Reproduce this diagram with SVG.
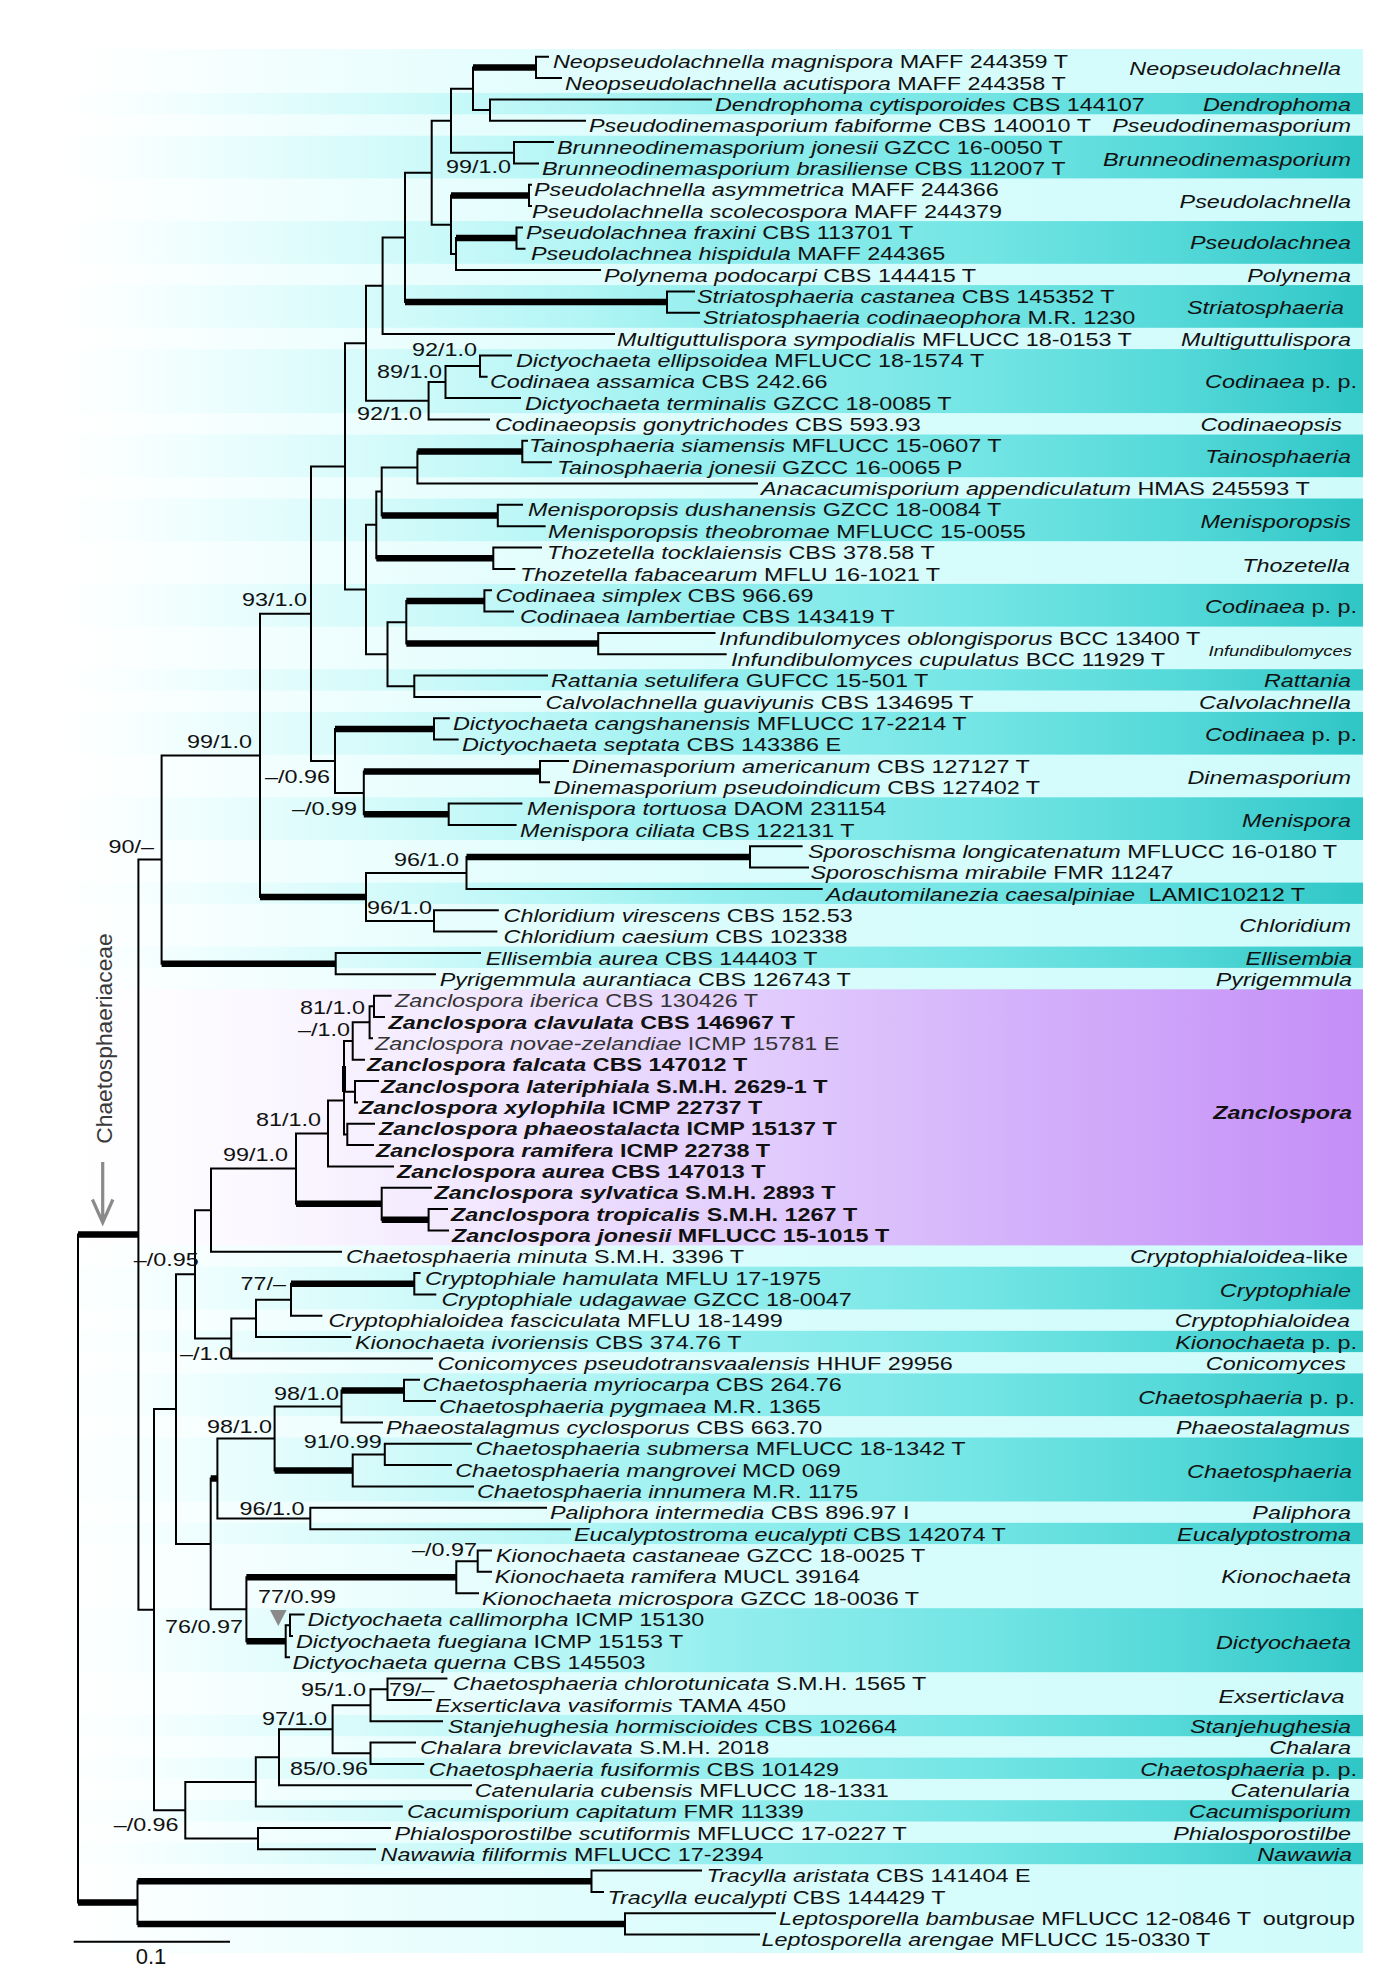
<svg xmlns="http://www.w3.org/2000/svg" width="1392" height="1982" viewBox="0 0 1392 1982">
<defs>
<linearGradient id="gL" gradientUnits="userSpaceOnUse" x1="66" y1="0" x2="1363" y2="0">
<stop offset="0" stop-color="#ffffff"/><stop offset="0.15" stop-color="#f3fefe"/><stop offset="0.35" stop-color="#e4fdfd"/><stop offset="0.55" stop-color="#d9fcfc"/><stop offset="1" stop-color="#d0fbfb"/>
</linearGradient>
<linearGradient id="gD" gradientUnits="userSpaceOnUse" x1="66" y1="0" x2="1363" y2="0">
<stop offset="0" stop-color="#ffffff"/><stop offset="0.1" stop-color="#effefe"/><stop offset="0.25" stop-color="#d3fafa"/><stop offset="0.4" stop-color="#b2f5f5"/><stop offset="0.5" stop-color="#95eeee"/><stop offset="0.7" stop-color="#74e5e5"/><stop offset="0.85" stop-color="#56d9d9"/><stop offset="1" stop-color="#2fc6c6"/>
</linearGradient>
<linearGradient id="gP" gradientUnits="userSpaceOnUse" x1="66" y1="0" x2="1363" y2="0">
<stop offset="0" stop-color="#ffffff"/><stop offset="0.15" stop-color="#fbf8ff"/><stop offset="0.35" stop-color="#f0e4fe"/><stop offset="0.48" stop-color="#e6d3fd"/><stop offset="0.7" stop-color="#d6b6fb"/><stop offset="1" stop-color="#c48ef7"/>
</linearGradient>
<style>
text { font-family: "Liberation Sans", Arial, sans-serif; font-size: 19px; fill: #111; }
.i { font-style: italic; }
.b { font-weight: bold; }
.g { fill: #333; }
.c { text-anchor: end; }
.s { text-anchor: end; }
.dk { fill: url(#gD); }
.br { fill: none; stroke: #000; stroke-width: 2; stroke-linecap: square; }
.th { fill: none; stroke: #000; stroke-width: 6.5; stroke-linecap: butt; }
</style>
</defs>
<rect x="0" y="0" width="1392" height="1982" fill="#ffffff"/>
<g id="bands">
<rect x="66" y="49" width="1297" height="1904" fill="url(#gL)"/>
<rect class="dk" x="66" y="93" width="1297" height="21.3"/>
<rect class="dk" x="66" y="135.7" width="1297" height="42.7"/>
<rect class="dk" x="66" y="221.1" width="1297" height="42.7"/>
<rect class="dk" x="66" y="285.1" width="1297" height="42.7"/>
<rect class="dk" x="66" y="349.1" width="1297" height="64"/>
<rect class="dk" x="66" y="434.5" width="1297" height="42.7"/>
<rect class="dk" x="66" y="498.5" width="1297" height="42.7"/>
<rect class="dk" x="66" y="583.9" width="1297" height="42.7"/>
<rect class="dk" x="66" y="669.2" width="1297" height="21.3"/>
<rect class="dk" x="66" y="711.9" width="1297" height="42.7"/>
<rect class="dk" x="66" y="797.3" width="1297" height="42.7"/>
<rect class="dk" x="66" y="882.6" width="1297" height="21.3"/>
<rect class="dk" x="66" y="946.6" width="1297" height="21.3"/>
<rect x="66" y="989.3" width="1297" height="256.1" fill="url(#gP)"/>
<rect class="dk" x="66" y="1266.7" width="1297" height="42.7"/>
<rect class="dk" x="66" y="1330.8" width="1297" height="21.3"/>
<rect class="dk" x="66" y="1373.4" width="1297" height="42.7"/>
<rect class="dk" x="66" y="1437.5" width="1297" height="64"/>
<rect class="dk" x="66" y="1522.8" width="1297" height="21.3"/>
<rect class="dk" x="66" y="1608.2" width="1297" height="64"/>
<rect class="dk" x="66" y="1714.9" width="1297" height="21.3"/>
<rect class="dk" x="66" y="1757.6" width="1297" height="21.3"/>
<rect class="dk" x="66" y="1800.2" width="1297" height="21.3"/>
<rect class="dk" x="66" y="1842.9" width="1297" height="21.3"/>
</g>
<g id="connectors">
<path class="br" d="M536,56.7V78 M536,56.7H548 M536,78H561
M490,99.4V120.7 M490,99.4H711 M490,120.7H585
M473,67.4V110 M473,110H490
M514,142.1V163.4 M514,142.1H553 M514,163.4H538
M451,88.7V152.7 M451,88.7H473 M451,152.7H514
M529,184.7V206.1 M529,184.7H531 M529,206.1H531
M516.5,227.4V248.8 M516.5,227.4H522 M516.5,248.8H524.5
M456,238.1V270.1 M456,270.1H600
M451,195.4V254.1 M451,254.1H456
M431.7,120.7V224.8 M431.7,120.7H451 M431.7,224.8H451
M667,291.4V312.8 M667,291.4H694 M667,312.8H699
M405,172.7V302.1 M405,172.7H431.7
M382.6,237.4V334.1 M382.6,237.4H405 M382.6,334.1H614
M480,355.5V376.8 M480,355.5H511 M480,376.8H486.6
M445.5,366.1V398.1 M445.5,366.1H480 M445.5,398.1H520
M428.6,382.1V419.5 M428.6,382.1H445.5 M428.6,419.5H489
M366,285.8V400.8 M366,285.8H382.6 M366,400.8H428.6
M522.3,440.8V462.2 M522.3,440.8H527 M522.3,462.2H551
M417.4,451.5V483.5 M417.4,483.5H757
M497.8,504.8V526.2 M497.8,504.8H522 M497.8,526.2H544.6
M381.7,467.5V515.5 M381.7,467.5H417.4
M493.3,547.5V568.9 M493.3,547.5H541 M493.3,568.9H514.3
M376.3,491.5V558.2 M376.3,491.5H381.7
M484.4,590.2V611.5 M484.4,590.2H491 M484.4,611.5H513
M598.2,632.9V654.2 M598.2,632.9H714.5 M598.2,654.2H725.7
M406.3,600.9V643.6
M414.3,675.6V696.9 M414.3,675.6H547 M414.3,696.9H540
M387.5,622.2V686.2 M387.5,622.2H406.3 M387.5,686.2H414.3
M366,524.8V654.2 M366,524.8H376.3 M366,654.2H387.5
M345,343.3V589.5 M345,343.3H366 M345,589.5H366
M434,718.2V739.6 M434,718.2H448.7 M434,739.6H457.6
M540,760.9V782.3 M540,760.9H568 M540,782.3H549
M448.7,803.6V824.9 M448.7,803.6H521.4 M448.7,824.9H515.6
M363.8,771.6V814.3
M335,728.9V793 M335,793H363.8
M311,466.4V761 M311,466.4H345 M311,761H335
M750,846.3V867.6 M750,846.3H801.6 M750,867.6H808
M466.5,857V889 M466.5,889H821.7
M434,910.3V931.6 M434,910.3H497.8 M434,931.6H496.4
M366,873V921 M366,873H466.5 M366,921H434
M260,613.7V897 M260,613.7H311
M335.7,953V974.3 M335.7,953H480 M335.7,974.3H435
M161.6,755.4V963.7 M161.6,755.4H260
M374,995.7V1017 M374,995.7H390.6 M374,1017H384
M369.6,1006.3V1038.3 M369.6,1006.3H374 M369.6,1038.3H372
M352.7,1022.3V1059.7 M352.7,1022.3H369.6 M352.7,1059.7H364
M355,1081V1102.4 M355,1081H378 M355,1102.4H357
M347.3,1123.7V1145 M347.3,1123.7H374 M347.3,1145H373
M344,1041V1134.4 M344,1041H352.7 M344,1091.7H355 M344,1134.4H347.3
M328,1100.4V1166.4 M328,1100.4H344 M328,1166.4H393
M428.6,1209.1V1230.4 M428.6,1209.1H447 M428.6,1230.4H448
M381.7,1187.7V1219.7 M381.7,1187.7H431
M296,1133.4V1203.7 M296,1133.4H328
M211,1168.6V1251.7 M211,1168.6H296 M211,1251.7H341
M414.3,1273.1V1294.4 M414.3,1273.1H419.6 M414.3,1294.4H435.3
M291,1283.8V1315.8 M291,1315.8H321.4
M256,1299.8V1337.1 M256,1299.8H291 M256,1337.1H350.4
M231.3,1318.5V1358.4 M231.3,1318.5H256 M231.3,1358.4H432
M195,1210.2V1338.5 M195,1210.2H211 M195,1338.5H231.3
M404,1379.8V1401.1 M404,1379.8H419 M404,1401.1H435
M341.5,1390.5V1422.5 M341.5,1422.5H382
M384.8,1443.8V1465.1 M384.8,1443.8H471 M384.8,1465.1H451
M352.7,1454.5V1486.5 M352.7,1454.5H384.8 M352.7,1486.5H473
M274.6,1406.5V1470.5 M274.6,1406.5H341.5
M310.3,1507.8V1529.2 M310.3,1507.8H546 M310.3,1529.2H570
M217.4,1438.5V1518.5 M217.4,1438.5H274.6 M217.4,1518.5H310.3
M477.7,1550.5V1571.8 M477.7,1550.5H491 M477.7,1571.8H491
M456.3,1561.2V1593.2 M456.3,1561.2H477.7 M456.3,1593.2H478
M290,1614.5V1635.9 M290,1614.5H303.6 M290,1635.9H292
M285.7,1625.2V1657.2 M285.7,1625.2H290 M285.7,1657.2H289
M246.4,1577.2V1641.2
M210.7,1478.5V1609.2 M210.7,1609.2H246.4
M176,1274.3V1543.9 M176,1274.3H195 M176,1543.9H210.7
M387.5,1678.5V1699.9 M387.5,1678.5H446.4 M387.5,1699.9H430.8
M370.5,1689.2V1721.2 M370.5,1689.2H387.5 M370.5,1721.2H442
M370.5,1742.6V1763.9 M370.5,1742.6H415 M370.5,1763.9H423.2
M332.6,1705.2V1753.2 M332.6,1705.2H370.5 M332.6,1753.2H370.5
M279,1729.2V1785.2 M279,1729.2H332.6 M279,1785.2H471
M255.8,1757.2V1806.6 M255.8,1757.2H279 M255.8,1806.6H401.8
M258,1827.9V1849.3 M258,1827.9H390 M258,1849.3H375
M185.3,1781.9V1838.6 M185.3,1781.9H255.8 M185.3,1838.6H258
M154,1409.1V1810.3 M154,1409.1H176 M154,1810.3H185.3
M138.4,859.5V1609.7 M138.4,859.5H161.6 M138.4,1609.7H154
M591.5,1870.6V1891.9 M591.5,1870.6H701 M591.5,1891.9H603
M625,1913.3V1934.6 M625,1913.3H775 M625,1934.6H759
M137.5,1881.3V1924
M78,1234.6V1902.6"/>
<path class="th" d="M473,67.4H536 M451,195.4H529 M456,238.1H516.5 M405,302.1H667 M417.4,451.5H522.3 M381.7,515.5H497.8 M376.3,558.2H493.3 M406.3,600.9H484.4 M406.3,643.6H598.2 M335,728.9H434 M363.8,771.6H540 M363.8,814.3H448.7 M260,897H366 M466.5,857H750 M161.6,963.7H335.7 M78,1234.6H138.4 M296,1203.7H381.7 M381.7,1219.7H428.6 M291,1283.8H414.3 M341.5,1390.5H404 M274.6,1470.5H352.7 M246.4,1577.2H456.3 M246.4,1641.2H285.7 M210.7,1478.5H217.4 M78,1902.6H137.5 M137.5,1881.3H591.5 M137.5,1924H625"/>
<path d="M344,1066V1092" fill="none" stroke="#000" stroke-width="4"/>
</g>
<g id="taxa" transform="scale(1.23,1)">
<g id="t01"><text x="449.6" y="68.4"><tspan class="i">Neopseudolachnella magnispora</tspan> MAFF 244359 T</text></g>
<g id="t02"><text x="459.35" y="89.7"><tspan class="i">Neopseudolachnella acutispora</tspan> MAFF 244358 T</text></g>
<g id="t03"><text x="581.3" y="111.1"><tspan class="i">Dendrophoma cytisporoides</tspan> CBS 144107</text></g>
<g id="t04"><text x="478.86" y="132.4"><tspan class="i">Pseudodinemasporium fabiforme</tspan> CBS 140010 T</text></g>
<g id="t05"><text x="452.85" y="153.8"><tspan class="i">Brunneodinemasporium jonesii</tspan> GZCC 16-0050 T</text></g>
<g id="t06"><text x="440.65" y="175.1"><tspan class="i">Brunneodinemasporium brasiliense</tspan> CBS 112007 T</text></g>
<g id="t07"><text x="434.15" y="196.4"><tspan class="i">Pseudolachnella asymmetrica</tspan> MAFF 244366</text></g>
<g id="t08"><text x="432.52" y="217.8"><tspan class="i">Pseudolachnella scolecospora</tspan> MAFF 244379</text></g>
<g id="t09"><text x="427.64" y="239.1"><tspan class="i">Pseudolachnea fraxini</tspan> CBS 113701 T</text></g>
<g id="t10"><text x="431.71" y="260.5"><tspan class="i">Pseudolachnea hispidula</tspan> MAFF 244365</text></g>
<g id="t11"><text x="491.06" y="281.8"><tspan class="i">Polynema podocarpi</tspan> CBS 144415 T</text></g>
<g id="t12"><text x="566.67" y="303.1"><tspan class="i">Striatosphaeria castanea</tspan> CBS 145352 T</text></g>
<g id="t13"><text x="571.54" y="324.5"><tspan class="i">Striatosphaeria codinaeophora</tspan> M.R. 1230</text></g>
<g id="t14"><text x="501.63" y="345.8"><tspan class="i">Multiguttulispora sympodialis</tspan> MFLUCC 18-0153 T</text></g>
<g id="t15"><text x="419.51" y="367.2"><tspan class="i">Dictyochaeta ellipsoidea</tspan> MFLUCC 18-1574 T</text></g>
<g id="t16"><text x="398.37" y="388.5"><tspan class="i">Codinaea assamica</tspan> CBS 242.66</text></g>
<g id="t17"><text x="426.83" y="409.8"><tspan class="i">Dictyochaeta terminalis</tspan> GZCC 18-0085 T</text></g>
<g id="t18"><text x="402.44" y="431.2"><tspan class="i">Codinaeopsis gonytrichodes</tspan> CBS 593.93</text></g>
<g id="t19"><text x="430.08" y="452.5"><tspan class="i">Tainosphaeria siamensis</tspan> MFLUCC 15-0607 T</text></g>
<g id="t20"><text x="452.85" y="473.9"><tspan class="i">Tainosphaeria jonesii</tspan> GZCC 16-0065 P</text></g>
<g id="t21"><text x="618.7" y="495.2"><tspan class="i">Anacacumisporium appendiculatum</tspan> HMAS 245593 T</text></g>
<g id="t22"><text x="429.27" y="516.5"><tspan class="i">Menisporopsis dushanensis</tspan> GZCC 18-0084 T</text></g>
<g id="t23"><text x="445.53" y="537.9"><tspan class="i">Menisporopsis theobromae</tspan> MFLUCC 15-0055</text></g>
<g id="t24"><text x="444.72" y="559.2"><tspan class="i">Thozetella tocklaiensis</tspan> CBS 378.58 T</text></g>
<g id="t25"><text x="422.76" y="580.6"><tspan class="i">Thozetella fabacearum</tspan> MFLU 16-1021 T</text></g>
<g id="t26"><text x="402.85" y="601.9"><tspan class="i">Codinaea simplex</tspan> CBS 966.69</text></g>
<g id="t27"><text x="422.76" y="623.2"><tspan class="i">Codinaea lambertiae</tspan> CBS 143419 T</text></g>
<g id="t28"><text x="584.55" y="644.6"><tspan class="i">Infundibulomyces oblongisporus</tspan> BCC 13400 T</text></g>
<g id="t29"><text x="594.31" y="665.9"><tspan class="i">Infundibulomyces cupulatus</tspan> BCC 11929 T</text></g>
<g id="t30"><text x="447.97" y="687.3"><tspan class="i">Rattania setulifera</tspan> GUFCC 15-501 T</text></g>
<g id="t31"><text x="443.5" y="708.6"><tspan class="i">Calvolachnella guaviyunis</tspan> CBS 134695 T</text></g>
<g id="t32"><text x="368.29" y="729.9"><tspan class="i">Dictyochaeta cangshanensis</tspan> MFLUCC 17-2214 T</text></g>
<g id="t33"><text x="375.61" y="751.3"><tspan class="i">Dictyochaeta septata</tspan> CBS 143386 E</text></g>
<g id="t34"><text x="465.04" y="772.6"><tspan class="i">Dinemasporium americanum</tspan> CBS 127127 T</text></g>
<g id="t35"><text x="450.08" y="794"><tspan class="i">Dinemasporium pseudoindicum</tspan> CBS 127402 T</text></g>
<g id="t36"><text x="428.46" y="815.3"><tspan class="i">Menispora tortuosa</tspan> DAOM 231154</text></g>
<g id="t37"><text x="422.76" y="836.6"><tspan class="i">Menispora ciliata</tspan> CBS 122131 T</text></g>
<g id="t38"><text x="656.91" y="858"><tspan class="i">Sporoschisma longicatenatum</tspan> MFLUCC 16-0180 T</text></g>
<g id="t39"><text x="658.94" y="879.3"><tspan class="i">Sporoschisma mirabile</tspan> FMR 11247</text></g>
<g id="t40"><text x="671.54" y="900.7"><tspan class="i">Adautomilanezia caesalpiniae</tspan> <tspan dx="5.7">LAMIC10212 T</tspan></text></g>
<g id="t41"><text x="409.43" y="922"><tspan class="i">Chloridium virescens</tspan> CBS 152.53</text></g>
<g id="t42"><text x="409.43" y="943.3"><tspan class="i">Chloridium caesium</tspan> CBS 102338</text></g>
<g id="t43"><text x="394.88" y="964.7"><tspan class="i">Ellisembia aurea</tspan> CBS 144403 T</text></g>
<g id="t44"><text x="357.48" y="986"><tspan class="i">Pyrigemmula aurantiaca</tspan> CBS 126743 T</text></g>
<g id="t45"><text class="g" x="321.14" y="1007.4"><tspan class="i">Zanclospora iberica</tspan> CBS 130426 T</text></g>
<g id="t46"><text class="b" x="315.77" y="1028.7"><tspan class="i">Zanclospora clavulata</tspan> CBS 146967 T</text></g>
<g id="t47"><text class="g" x="304.88" y="1050"><tspan class="i">Zanclospora novae-zelandiae</tspan> ICMP 15781 E</text></g>
<g id="t48"><text class="b" x="298.37" y="1071.4"><tspan class="i">Zanclospora falcata</tspan> CBS 147012 T</text></g>
<g id="t49"><text class="b" x="309.76" y="1092.7"><tspan class="i">Zanclospora lateriphiala</tspan> S.M.H. 2629-1 T</text></g>
<g id="t50"><text class="b" x="291.87" y="1114.1"><tspan class="i">Zanclospora xylophila</tspan> ICMP 22737 T</text></g>
<g id="t51"><text class="b" x="308.13" y="1135.4"><tspan class="i">Zanclospora phaeostalacta</tspan> ICMP 15137 T</text></g>
<g id="t52"><text class="b" x="305.69" y="1156.7"><tspan class="i">Zanclospora ramifera</tspan> ICMP 22738 T</text></g>
<g id="t53"><text class="b" x="322.76" y="1178.1"><tspan class="i">Zanclospora aurea</tspan> CBS 147013 T</text></g>
<g id="t54"><text class="b" x="353.25" y="1199.4"><tspan class="i">Zanclospora sylvatica</tspan> S.M.H. 2893 T</text></g>
<g id="t55"><text class="b" x="366.67" y="1220.8"><tspan class="i">Zanclospora tropicalis</tspan> S.M.H. 1267 T</text></g>
<g id="t56"><text class="b" x="367.48" y="1242.1"><tspan class="i">Zanclospora jonesii</tspan> MFLUCC 15-1015 T</text></g>
<g id="t57"><text x="281.3" y="1263.4"><tspan class="i">Chaetosphaeria minuta</tspan> S.M.H. 3396 T</text></g>
<g id="t58"><text x="345.53" y="1284.8"><tspan class="i">Cryptophiale hamulata</tspan> MFLU 17-1975</text></g>
<g id="t59"><text x="358.94" y="1306.1"><tspan class="i">Cryptophiale udagawae</tspan> GZCC 18-0047</text></g>
<g id="t60"><text x="267.07" y="1327.5"><tspan class="i">Cryptophialoidea fasciculata</tspan> MFLU 18-1499</text></g>
<g id="t61"><text x="288.62" y="1348.8"><tspan class="i">Kionochaeta ivoriensis</tspan> CBS 374.76 T</text></g>
<g id="t62"><text x="355.69" y="1370.1"><tspan class="i">Conicomyces pseudotransvaalensis</tspan> HHUF 29956</text></g>
<g id="t63"><text x="343.5" y="1391.5"><tspan class="i">Chaetosphaeria myriocarpa</tspan> CBS 264.76</text></g>
<g id="t64"><text x="356.91" y="1412.8"><tspan class="i">Chaetosphaeria pygmaea</tspan> M.R. 1365</text></g>
<g id="t65"><text x="313.82" y="1434.2"><tspan class="i">Phaeostalagmus cyclosporus</tspan> CBS 663.70</text></g>
<g id="t66"><text x="386.5" y="1455.5"><tspan class="i">Chaetosphaeria submersa</tspan> MFLUCC 18-1342 T</text></g>
<g id="t67"><text x="370.08" y="1476.8"><tspan class="i">Chaetosphaeria mangrovei</tspan> MCD 069</text></g>
<g id="t68"><text x="387.8" y="1498.2"><tspan class="i">Chaetosphaeria innumera</tspan> M.R. 1175</text></g>
<g id="t69"><text x="447.15" y="1519.5"><tspan class="i">Paliphora intermedia</tspan> CBS 896.97 I</text></g>
<g id="t70"><text x="466.67" y="1540.9"><tspan class="i">Eucalyptostroma eucalypti</tspan> CBS 142074 T</text></g>
<g id="t71"><text x="403.25" y="1562.2"><tspan class="i">Kionochaeta castaneae</tspan> GZCC 18-0025 T</text></g>
<g id="t72"><text x="402.28" y="1583.5"><tspan class="i">Kionochaeta ramifera</tspan> MUCL 39164</text></g>
<g id="t73"><text x="391.87" y="1604.9"><tspan class="i">Kionochaeta microspora</tspan> GZCC 18-0036 T</text></g>
<g id="t74"><text x="250" y="1626.2"><tspan class="i">Dictyochaeta callimorpha</tspan> ICMP 15130</text></g>
<g id="t75"><text x="240.65" y="1647.6"><tspan class="i">Dictyochaeta fuegiana</tspan> ICMP 15153 T</text></g>
<g id="t76"><text x="237.72" y="1668.9"><tspan class="i">Dictyochaeta querna</tspan> CBS 145503</text></g>
<g id="t77"><text x="368.13" y="1690.2"><tspan class="i">Chaetosphaeria chlorotunicata</tspan> S.M.H. 1565 T</text></g>
<g id="t78"><text x="353.82" y="1711.6"><tspan class="i">Exserticlava vasiformis</tspan> TAMA 450</text></g>
<g id="t79"><text x="364.07" y="1732.9"><tspan class="i">Stanjehughesia hormiscioides</tspan> CBS 102664</text></g>
<g id="t80"><text x="341.46" y="1754.3"><tspan class="i">Chalara breviclavata</tspan> S.M.H. 2018</text></g>
<g id="t81"><text x="348.62" y="1775.6"><tspan class="i">Chaetosphaeria fusiformis</tspan> CBS 101429</text></g>
<g id="t82"><text x="385.93" y="1796.9"><tspan class="i">Catenularia cubensis</tspan> MFLUCC 18-1331</text></g>
<g id="t83"><text x="330.89" y="1818.3"><tspan class="i">Cacumisporium capitatum</tspan> FMR 11339</text></g>
<g id="t84"><text x="320.73" y="1839.6"><tspan class="i">Phialosporostilbe scutiformis</tspan> MFLUCC 17-0227 T</text></g>
<g id="t85"><text x="309.43" y="1861"><tspan class="i">Nawawia filiformis</tspan> MFLUCC 17-2394</text></g>
<g id="t86"><text x="574.39" y="1882.3"><tspan class="i">Tracylla aristata</tspan> CBS 141404 E</text></g>
<g id="t87"><text x="493.9" y="1903.6"><tspan class="i">Tracylla eucalypti</tspan> CBS 144429 T</text></g>
<g id="t88"><text x="633.33" y="1925"><tspan class="i">Leptosporella bambusae</tspan> MFLUCC 12-0846 T</text></g>
<g id="t89"><text x="619.11" y="1946.3"><tspan class="i">Leptosporella arengae</tspan> MFLUCC 15-0330 T</text></g>
</g>
<g id="clades" transform="scale(1.23,1)">
<text class="c i" x="1090.24" y="75.1">Neopseudolachnella</text>
<text class="c i" x="1098.37" y="111.1">Dendrophoma</text>
<text class="c i" x="1098.37" y="132.4">Pseudodinemasporium</text>
<text class="c i" x="1098.37" y="166.4">Brunneodinemasporium</text>
<text class="c i" x="1098.37" y="208.4">Pseudolachnella</text>
<text class="c i" x="1098.37" y="249.4">Pseudolachnea</text>
<text class="c i" x="1098.37" y="281.8">Polynema</text>
<text class="c i" x="1092.68" y="314">Striatosphaeria</text>
<text class="c i" x="1098.37" y="345.8">Multiguttulispora</text>
<text class="c" x="1103.25" y="388.5"><tspan class="i">Codinaea</tspan> p. p.</text>
<text class="c i" x="1091.06" y="431.2">Codinaeopsis</text>
<text class="c i" x="1098.37" y="462.9">Tainosphaeria</text>
<text class="c i" x="1098.37" y="528.4">Menisporopsis</text>
<text class="c i" x="1097.56" y="572.4">Thozetella</text>
<text class="c" x="1103.25" y="612.9"><tspan class="i">Codinaea</tspan> p. p.</text>
<text class="c i" x="1099.19" y="655.7" style="font-size:15px">Infundibulomyces</text>
<text class="c i" x="1098.37" y="687.3">Rattania</text>
<text class="c i" x="1098.37" y="708.6">Calvolachnella</text>
<text class="c" x="1103.25" y="741.2"><tspan class="i">Codinaea</tspan> p. p.</text>
<text class="c i" x="1098.37" y="784.4">Dinemasporium</text>
<text class="c i" x="1098.37" y="826.9">Menispora</text>
<text class="c i" x="1098.37" y="932.4">Chloridium</text>
<text class="c i" x="1099.19" y="964.7">Ellisembia</text>
<text class="c i" x="1099.19" y="986">Pyrigemmula</text>
<text class="c i b" x="1099.19" y="1119.4">Zanclospora</text>
<text class="c" x="1095.93" y="1263.4"><tspan class="i">Cryptophialoidea</tspan>-like</text>
<text class="c i" x="1098.37" y="1297.4">Cryptophiale</text>
<text class="c i" x="1097.56" y="1327.5">Cryptophialoidea</text>
<text class="c" x="1103.25" y="1348.8"><tspan class="i">Kionochaeta</tspan> p. p.</text>
<text class="c i" x="1094.31" y="1370.1">Conicomyces</text>
<text class="c" x="1101.63" y="1404.4"><tspan class="i">Chaetosphaeria</tspan> p. p.</text>
<text class="c i" x="1097.56" y="1434.2">Phaeostalagmus</text>
<text class="c i" x="1099.19" y="1477.9">Chaetosphaeria</text>
<text class="c i" x="1098.37" y="1519.5">Paliphora</text>
<text class="c i" x="1098.37" y="1540.9">Eucalyptostroma</text>
<text class="c i" x="1098.37" y="1583.5">Kionochaeta</text>
<text class="c i" x="1098.37" y="1648.9">Dictyochaeta</text>
<text class="c i" x="1093.09" y="1703.4">Exserticlava</text>
<text class="c i" x="1098.37" y="1732.9">Stanjehughesia</text>
<text class="c i" x="1098.37" y="1754.3">Chalara</text>
<text class="c" x="1103.25" y="1775.6"><tspan class="i">Chaetosphaeria</tspan> p. p.</text>
<text class="c i" x="1097.56" y="1796.9">Catenularia</text>
<text class="c i" x="1098.37" y="1818.3">Cacumisporium</text>
<text class="c i" x="1098.37" y="1839.6">Phialosporostilbe</text>
<text class="c i" x="1099.19" y="1861">Nawawia</text>
<text class="c" x="1101.63" y="1925">outgroup</text>
</g>
<g id="support" transform="scale(1.23,1)">
<text class="s" x="415.45" y="173.4">99/1.0</text>
<text class="s" x="387.8" y="356.5">92/1.0</text>
<text class="s" x="359.35" y="378.2">89/1.0</text>
<text class="s" x="343.09" y="419.9">92/1.0</text>
<text class="s" x="249.59" y="606.4">93/1.0</text>
<text class="s" x="204.88" y="748.4">99/1.0</text>
<text class="s" x="268.29" y="783.4">–/0.96</text>
<text class="s" x="290.24" y="814.9">–/0.99</text>
<text class="s" x="125.2" y="853.4">90/–</text>
<text class="s" x="373.17" y="866.4">96/1.0</text>
<text class="s" x="351.22" y="914.4">96/1.0</text>
<text class="s" x="296.75" y="1014.4">81/1.0</text>
<text class="s" x="284.55" y="1036.3">–/1.0</text>
<text class="s" x="260.98" y="1126.4">81/1.0</text>
<text class="s" x="234.15" y="1161.4">99/1.0</text>
<text class="s" x="161.54" y="1266.4">–/0.95</text>
<text class="s" x="232.52" y="1289.9">77/–</text>
<text class="s" x="188.62" y="1359.9">–/1.0</text>
<text class="s" x="275.61" y="1399.9">98/1.0</text>
<text class="s" x="221.14" y="1433.4">98/1.0</text>
<text class="s" x="310.33" y="1448.4">91/0.99</text>
<text class="s" x="247.56" y="1514.9">96/1.0</text>
<text class="s" x="387.8" y="1556.4">–/0.97</text>
<text class="s" x="273.17" y="1603.4">77/0.99</text>
<text class="s" x="197.56" y="1633.4">76/0.97</text>
<text class="s" x="297.56" y="1696.4">95/1.0</text>
<text class="s" x="353.25" y="1696.4">79/–</text>
<text class="s" x="265.85" y="1724.9">97/1.0</text>
<text class="s" x="299.19" y="1774.9">85/0.96</text>
<text class="s" x="145.2" y="1831.4">–/0.96</text>
</g>
<g id="family">
<text x="0" y="0" transform="translate(111.5,1038.5) rotate(-90)" text-anchor="middle" style="fill:#3a3a3a;font-size:22.8px">Chaetosphaeriaceae</text>
<path d="M102.7,1162V1222 M92.4,1199.5L102.7,1222.5L112.9,1199.5" fill="none" stroke="#8a8a8a" stroke-width="3.2" stroke-linejoin="miter"/>
<path d="M270,1610H286.6L278.3,1626Z" fill="#8a8a8a"/>
</g>
<g id="scale">
<path d="M73.7,1941.7H230" fill="none" stroke="#000" stroke-width="2"/>
<text x="151" y="1964" text-anchor="middle" style="font-size:22px">0.1</text>
</g>
</svg>
